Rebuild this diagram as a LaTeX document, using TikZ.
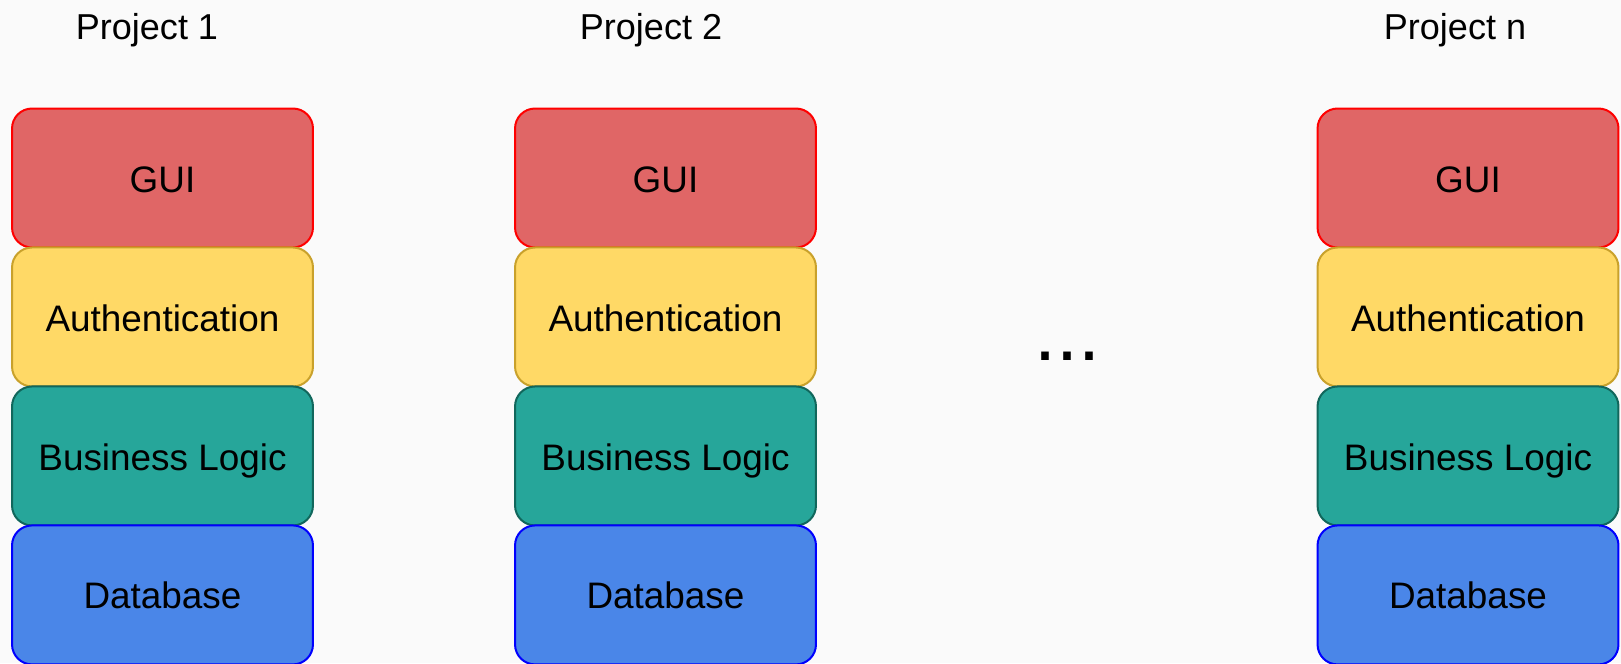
\documentclass[tikz,border=0pt]{standalone}
\usepackage{fontspec}
\setmainfont{Liberation Sans}
\usetikzlibrary{positioning}

\definecolor{guifill}{HTML}{E06666}
\definecolor{guiline}{HTML}{FF0000}
\definecolor{authfill}{HTML}{FFD966}
\definecolor{authline}{HTML}{C9A12B}
\definecolor{logicfill}{HTML}{26A69A}
\definecolor{logicline}{HTML}{11675C}
\definecolor{dbfill}{HTML}{4A86E8}
\definecolor{dbline}{HTML}{0000FF}
\definecolor{bgcol}{HTML}{FAFAFA}

\begin{document}
\begin{tikzpicture}[
        x=0.02cm, y=-0.02cm,
        node distance=0pt,
        font=\fontsize{21pt}{24pt}\selectfont,
        layer/.style={rectangle, draw, line width=0.04cm, outer sep=0pt, rounded corners=0.4cm, text centered, text height=16pt, text depth=0pt, minimum width=6.02cm, minimum height=2.78cm},
        gui/.style={layer, fill=guifill, draw=guiline},
        auth/.style={layer, fill=authfill, draw=authline},
        logic/.style={layer, fill=logicfill, draw=logicline},
        db/.style={layer, fill=dbfill, draw=dbline},
        title/.style={anchor=base, font=\fontsize{20.5pt}{24pt}\selectfont}
    ]
        \fill [bgcol] (0,0) rectangle (1621,663);
        \useasboundingbox (0,0) rectangle (1621,663);

        % project 1
        \node (title1) [title] at (147,39) {Project 1};
        \node (gui1) [gui] at (162.5,178) {GUI};
        \node (auth1) [auth, below=of gui1] {Authentication};
        \node (logic1) [logic, below=of auth1] {Business Logic};
        \node (db1) [db, below=of logic1] {Database};

        % project 2
        \node (title2) [title] at (651,39) {Project 2};
        \node (gui2) [gui] at (665.5,178) {GUI};
        \node (auth2) [auth, below=of gui2] {Authentication};
        \node (logic2) [logic, below=of auth2] {Business Logic};
        \node (db2) [db, below=of logic2] {Database};

        % project n
        \node (titlen) [title] at (1455,39) {Project n};
        \node (guin) [gui] at (1468,178) {GUI};
        \node (authn) [auth, below=of guin] {Authentication};
        \node (logicn) [logic, below=of authn] {Business Logic};
        \node (dbn) [db, below=of logicn] {Database};

        \node (dots) [anchor=base, font=\fontsize{45pt}{50pt}\selectfont] at (1067,360) {...};
    \end{tikzpicture}
\end{document}
